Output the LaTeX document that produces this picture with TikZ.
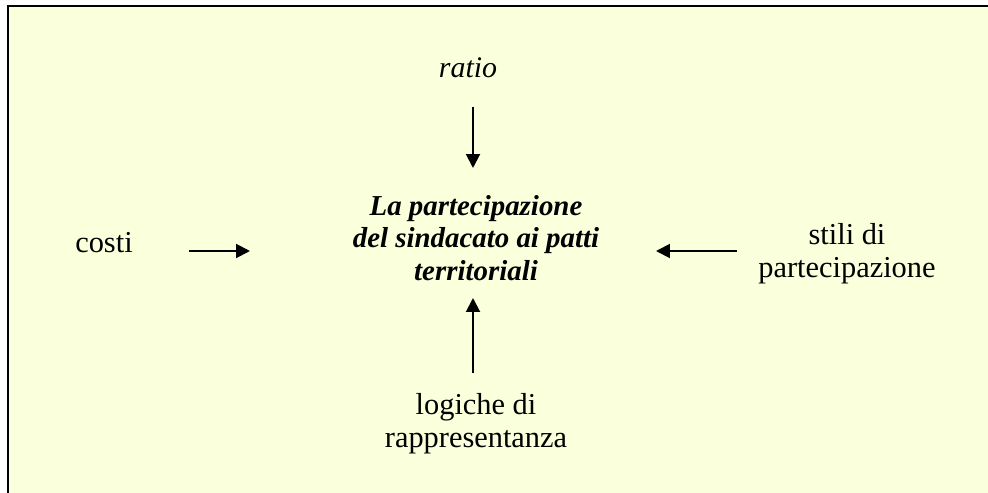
\documentclass[tikz,border=0pt]{standalone}
\usepackage{fontspec}
\setmainfont{Liberation Serif}
\usetikzlibrary{arrows.meta}
\definecolor{bgyellow}{RGB}{250,255,220}
\tikzset{
  lbl/.style={inner sep=0pt, align=center, font=\fontsize{30.5}{33.5}\selectfont},
  ttl/.style={inner sep=0pt, align=center, font=\fontsize{29}{32.5}\selectfont\bfseries\itshape},
  arr/.style={line width=2pt, -{Triangle[length=14pt,width=14pt]}},
  frame/.style={line width=2.5pt, draw=black}
}
\begin{document}
\begin{tikzpicture}[x=1bp,y=-1bp]
\useasboundingbox (0,0) rectangle (988,493);
\fill[bgyellow] (7.8,6) rectangle (988,493);
\draw[frame] (7.8,493) -- (7.8,6) -- (988,6);

\node[lbl, font=\fontsize{30}{33.5}\selectfont\itshape] (ratio) at (468,68) {ratio};
\node[ttl] (center) at (476,238) {La partecipazione\\del sindacato ai patti\\territoriali};
\node[lbl] (costi) at (104,243) {costi};
\node[lbl] (stili) at (847,254) {stili di\\partecipazione};
\node[lbl] (logiche) at (476,424) {logiche di\\rappresentanza};

\coordinate (rT) at (473,107);
\coordinate (rH) at (473,168);
\coordinate (lT) at (473,373);
\coordinate (lH) at (473,298);
\coordinate (cT) at (189,251);
\coordinate (cH) at (250,251);
\coordinate (sT) at (737,251);
\coordinate (sH) at (656,251);

\draw[arr] (rT) -- (rH);
\draw[arr] (lT) -- (lH);
\draw[arr] (cT) -- (cH);
\draw[arr] (sT) -- (sH);
\end{tikzpicture}
\end{document}
